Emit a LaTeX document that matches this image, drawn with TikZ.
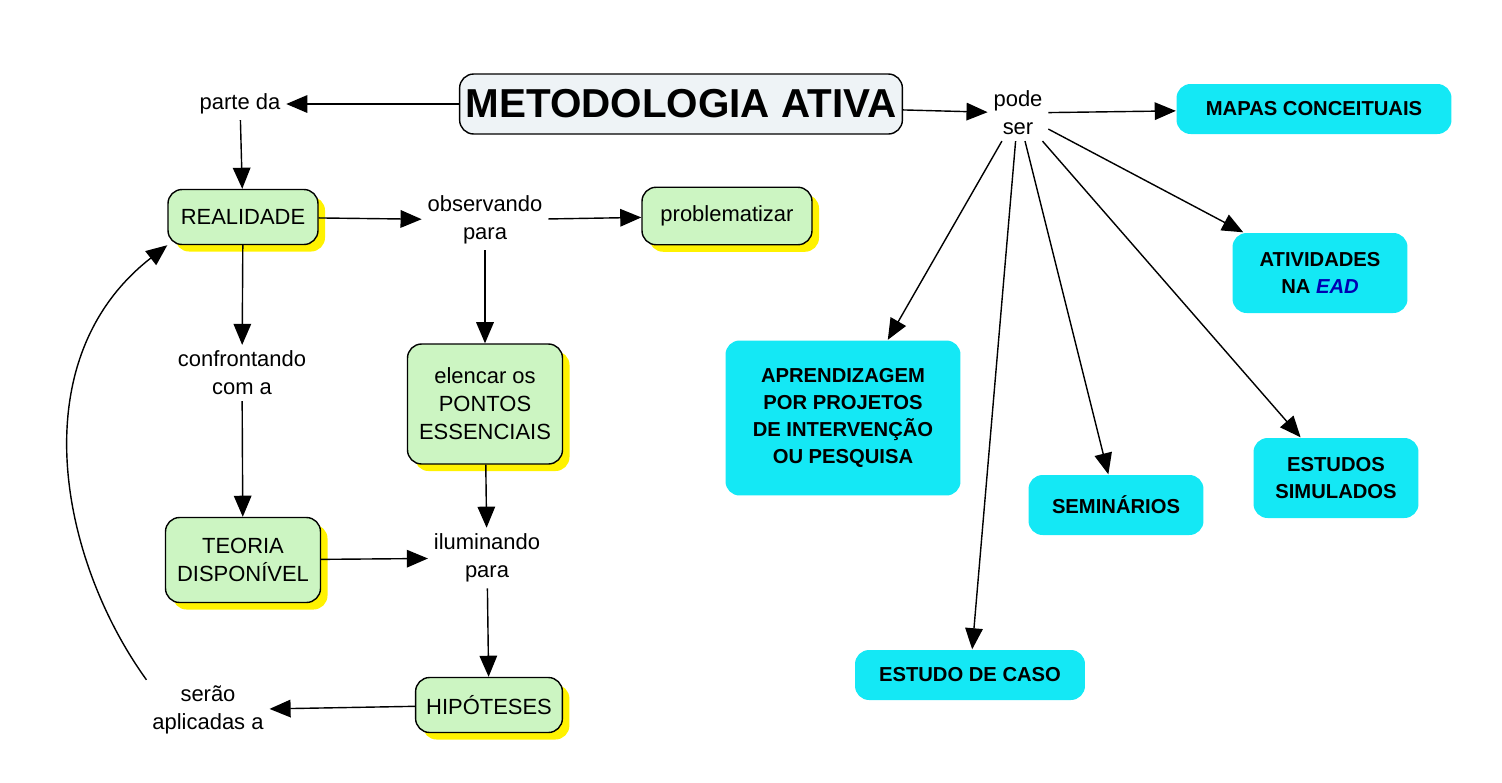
\documentclass[tikz,border=0pt]{standalone}
\usepackage{fontspec}
\setmainfont{Liberation Sans}
\usepackage{tikz}
\usetikzlibrary{shapes,positioning,arrows.meta,shadows}
\definecolor{verde}{HTML}{CCF5C2}
\definecolor{ciano}{HTML}{14E8F5}
\definecolor{topo}{HTML}{EEF3F6}
\tikzset{conc/.style={rectangle,rounded corners=8pt,draw,thick,fill=verde,align=center,font=\fontsize{12.5}{16}\selectfont,inner sep=6pt,
    drop shadow={shadow xshift=4pt,shadow yshift=-4pt,fill=yellow,opacity=1}},
  meio/.style={rectangle,rounded corners=8pt,fill=ciano,align=center,font=\bfseries\fontsize{11.5}{15.5}\selectfont,inner sep=6pt},
  lig/.style={align=center,font=\fontsize{12.5}{16}\selectfont,inner sep=3pt}}
\begin{document}
\begin{tikzpicture}[x=0.02cm,y=-0.02cm,>={Triangle[length=12pt,width=10pt]},thick]
    \useasboundingbox (0,0) rectangle (1502,782);
    \node[rectangle,rounded corners=8pt,draw,thick,fill=topo,font=\bfseries\fontsize{23}{26}\selectfont,minimum width=8.2cm,minimum height=1.2cm] (met) at (681,104) {METODOLOGIA ATIVA};
    \node[lig] (parte) at (240,104) {parte da};
    \node[conc,minimum width=3cm,minimum height=1.1cm] (real) at (243,217) {REALIDADE};
    \node[lig] (obs) at (485,220) {observando\\para};
    \node[conc,minimum width=3.4cm,minimum height=1.15cm] (prob) at (727,216) {problematizar};
    \node[lig] (conf) at (242,373) {confrontando\\com a};
    \node[conc,minimum width=3.1cm,minimum height=2.4cm] (elen) at (485,404) {elencar os\\PONTOS\\ESSENCIAIS};
    \node[conc,minimum width=3.1cm,minimum height=1.7cm] (teor) at (243,560) {TEORIA\\DISPONÍVEL};
    \node[lig] (ilum) at (487,558) {iluminando\\para};
    \node[conc,minimum width=2.9cm,minimum height=1.1cm] (hipo) at (489,705) {HIPÓTESES};
    \node[lig] (serao) at (208,710) {serão\\aplicadas a};
    \node[lig] (pode) at (1018,113) {pode\\ser};
    \node[meio,minimum width=5.5cm,minimum height=1cm] (mapas) at (1314,109) {MAPAS CONCEITUAIS};
    \node[meio,minimum width=3.5cm,minimum height=1.6cm] (ativ) at (1320,273) {ATIVIDADES\\NA \textcolor{blue!70!black}{\itshape EAD}};
    \node[meio,minimum width=4.7cm,minimum height=3.1cm] (apren) at (843,418) {APRENDIZAGEM\\POR PROJETOS\\DE INTERVENÇÃO\\OU PESQUISA};
    \node[meio,minimum width=3.5cm,minimum height=1.2cm] (semi) at (1116,505) {SEMINÁRIOS};
    \node[meio,minimum width=3.3cm,minimum height=1.6cm] (simu) at (1336,478) {ESTUDOS\\SIMULADOS};
    \node[meio,minimum width=4.6cm,minimum height=1cm] (caso) at (970,675) {ESTUDO DE CASO};

    \draw[->] (met) -- (parte);
    \draw[->] (parte) -- (real);
    \draw[->] (real) -- (obs);
    \draw[->] (obs) -- (prob);
    \draw[->] (obs) -- (elen);
    \draw[->] (real) -- (conf);
    \draw[->] (conf) -- (teor);
    \draw[->] (elen) -- (ilum);
    \draw[->] (teor) -- (ilum);
    \draw[->] (ilum) -- (hipo);
    \draw[->] (hipo) -- (serao);
    \draw[->] (serao.north west) .. controls (60,560) and (20,360) .. (real.south west);
    \draw[->] (met) -- (pode);
    \draw[->] (pode) -- (mapas);
    \draw[->] (pode) -- (ativ);
    \draw[->] (pode) -- (apren);
    \draw[->] (pode) -- (semi);
    \draw[->] (pode) -- (simu);
    \draw[->] (pode) -- (caso);
\end{tikzpicture}
\end{document}
